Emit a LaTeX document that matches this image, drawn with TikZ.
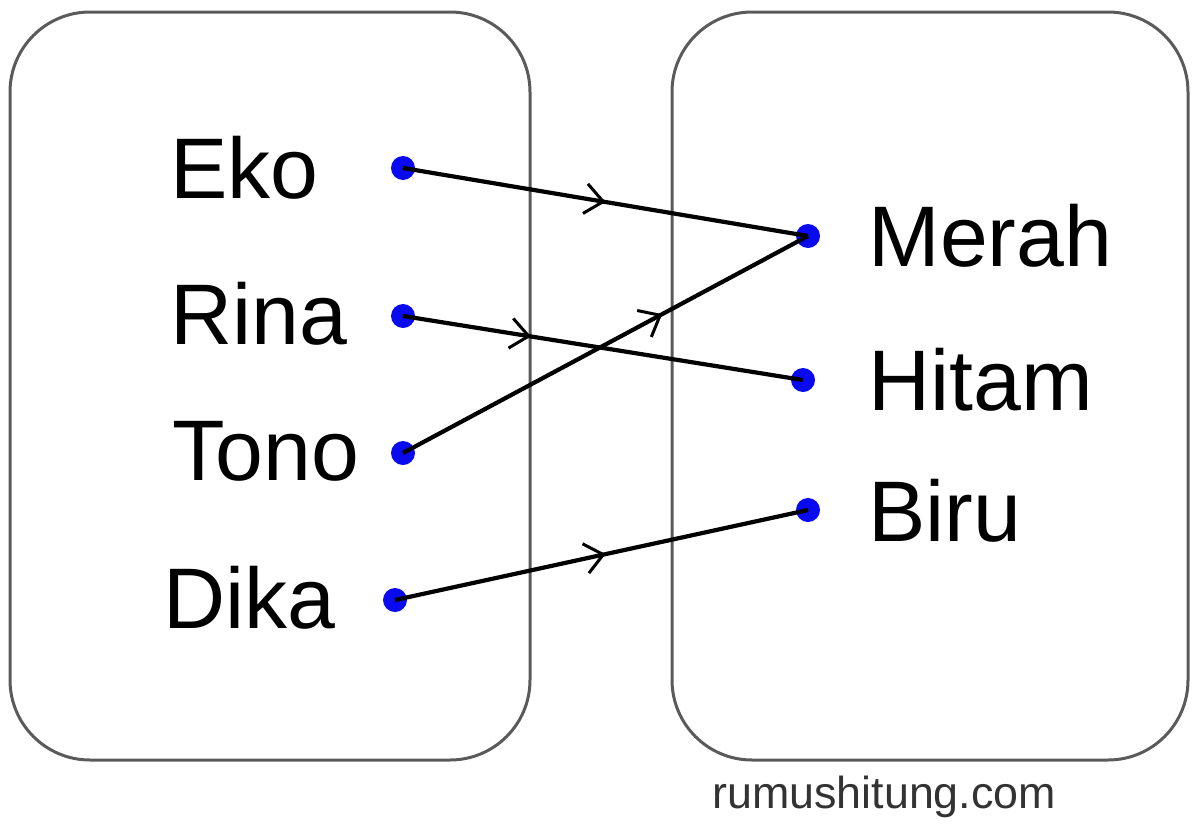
\documentclass[tikz,border=0pt]{standalone}
\usepackage{fontspec}
\setmainfont{Liberation Sans}
\usetikzlibrary{arrows.meta,decorations.markings}
\definecolor{setline}{HTML}{5A5A5A}
\definecolor{dotblue}{HTML}{0A0AF0}

\begin{document}
\begin{tikzpicture}[
  x=0.5pt,y=-0.5pt,
  setbox/.style={draw=setline,line width=1.5pt,rounded corners=40pt},
  elemdot/.style={circle,fill=dotblue,inner sep=0pt,minimum size=12pt},
  elemtext/.style={anchor=west,inner sep=0pt,font=\fontsize{43}{46}\selectfont},
  map/.style={line width=2.1pt,postaction={decorate},
    decoration={markings,mark=at position #1 with {\arrow{Straight Barb[length=9pt,width=15pt,line width=1.5pt]}}}}
]
\useasboundingbox (0,0) rectangle (1200,825);
% the two sets
\draw[setbox] (10,12) rectangle (530,760);
\draw[setbox] (672,12) rectangle (1188,760);
% domain
\node[elemdot] (eko) at (403,168) {};
\node[elemdot] (rina) at (403,316) {};
\node[elemdot] (tono) at (403,453) {};
\node[elemdot] (dika) at (395,600) {};
\node[elemtext] (ekot) at (170,168) {Eko};
\node[elemtext] (rinat) at (170,314) {Rina};
\node[elemtext] (tonot) at (172,451) {Tono};
\node[elemtext] (dikat) at (163,598) {Dika};
% codomain
\node[elemdot] (merah) at (808,236) {};
\node[elemdot] (hitam) at (803,380) {};
\node[elemdot] (biru) at (808,510) {};
\node[elemtext] (meraht) at (868,236) {Merah};
\node[elemtext] (hitamt) at (868,380) {Hitam};
\node[elemtext] (birut) at (868,511) {Biru};
% relation
\draw[map=0.50] (eko.center) -- (merah.center);
\draw[map=0.32] (rina.center) -- (hitam.center);
\draw[map=0.64] (tono.center) -- (merah.center);
\draw[map=0.51] (dika.center) -- (biru.center);
\node[anchor=west,inner sep=0pt,text=black!80,font=\fontsize{22.4}{24}\selectfont] (site) at (712,797) {rumushitung.com};
\end{tikzpicture}
\end{document}
